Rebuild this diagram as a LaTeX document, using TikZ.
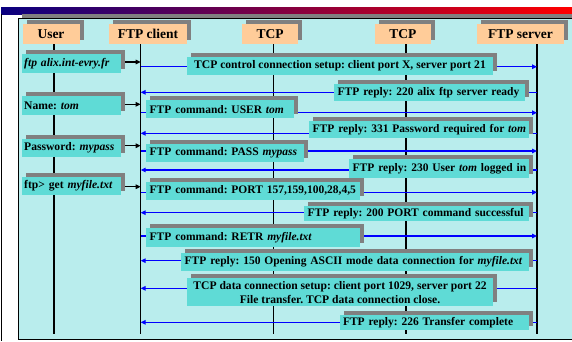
\documentclass[tikz,border=0pt]{standalone}
\usepackage{fontspec}
\setmainfont{Liberation Serif}
\usetikzlibrary{shadows,arrows.meta}
\definecolor{panel}{RGB}{185,237,237}
\definecolor{turq}{RGB}{95,219,214}
\definecolor{peach}{RGB}{255,204,153}
\definecolor{shgray}{RGB}{128,128,128}
\definecolor{navyc}{RGB}{10,0,128}
\definecolor{purp}{RGB}{128,0,128}
\definecolor{bline}{RGB}{0,0,255}
\frenchspacing
\begin{document}
\begin{tikzpicture}[x=1pt,y=-1pt,
  sh/.style={drop shadow={shadow xshift=4pt,shadow yshift=4pt,fill=shgray,opacity=1}},
  hdr/.style={sh,fill=peach,inner sep=0pt,font=\bfseries\fontsize{13.5}{16}\selectfont},
  ubox/.style={sh,fill=turq,inner xsep=2pt,inner ysep=0pt,align=left,anchor=west,text width=95pt,minimum height=18.5pt,font=\bfseries\fontsize{11.6}{14}\selectfont},
  mbox/.style={sh,fill=turq,inner xsep=3.5pt,inner ysep=0pt,align=left,anchor=west,font=\bfseries\fontsize{11.5}{14}\selectfont},
  cbox/.style={sh,fill=turq,inner sep=0pt,align=center,font=\bfseries\fontsize{11.6}{14.2}\selectfont},
  life/.style={line width=1.4pt,black},
  bl/.style={line width=1.5pt,bline,-{Triangle[length=5pt,width=4.5pt]}},
  ba/.style={line width=1.3pt,black,-{Triangle[length=5pt,width=4.5pt]}},
]
\clip (0,0) rectangle (572,341);
\fill[white] (0,0) rectangle (572,341);
% top gradient bar and left rule
\shade[left color=navyc,middle color=purp,right color=red] (1,7.5) rectangle (572,14);
\draw[line width=1.2pt,black] (1.5,14) -- (1.5,341);
% panel with shadow
\fill[shgray] (22,14.3) rectangle (580,335);
\filldraw[fill=panel,draw=black,line width=1pt] (18,18) rectangle (580,339);

% lifelines
\coordinate (Ut) at (54,44);    \coordinate (Ub) at (54,334);
\coordinate (Lc) at (140.7,44); \coordinate (Cb) at (140.7,334);
\coordinate (T1t) at (273.3,44);\coordinate (T1b) at (273.3,334);
\coordinate (T2t) at (406,44);  \coordinate (T2b) at (406,334);
\coordinate (Ls) at (537,44);   \coordinate (Sb) at (537,334);
\draw[life] (Ut) -- (Ub);
\draw[life] (Lc) -- (Cb);
\draw[life] (T1t) -- (T1b);
\draw[life] (T2t) -- (T2b);
\draw[life,line width=1.7pt] (Ls) -- (Sb);

% message levels
\coordinate (y1) at (0,66.7);
\coordinate (y2) at (0,92.3);
\coordinate (y3) at (0,112.7);
\coordinate (y4) at (0,133.3);
\coordinate (y5) at (0,151);
\coordinate (y6) at (0,170);
\coordinate (y7) at (0,192.3);
\coordinate (y8) at (0,212.7);
\coordinate (y9) at (0,236);
\coordinate (y10) at (0,260.7);
\coordinate (y11) at (0,288.3);
\coordinate (y12) at (0,322.3);
\draw[bl] (Lc|-y1) -- (Ls|-y1);
\draw[bl] (Ls|-y2) -- (Lc|-y2);
\draw[bl] (Lc|-y3) -- (Ls|-y3);
\draw[bl] (Ls|-y4) -- (Lc|-y4);
\draw[bl] (Lc|-y5) -- (Ls|-y5);
\draw[bl] (Ls|-y6) -- (Lc|-y6);
\draw[bl] (Lc|-y7) -- (Ls|-y7);
\draw[bl] (Ls|-y8) -- (Lc|-y8);
\draw[bl] (Lc|-y9) -- (Ls|-y9);
\draw[bl] (Ls|-y10) -- (Lc|-y10);
\draw[bl] (Ls|-y11) -- (Lc|-y11);
\draw[bl] (Ls|-y12) -- (Lc|-y12);

% user boxes
\node[ubox] (u1) at (22,63.5) {\mbox{\textit{ftp alix.int-evry.fr}}};
\node[ubox] (u2) at (22,105.5) {\mbox{Name: \textit{tom}}};
\node[ubox] (u3) at (22,147.8) {\mbox{Password: \textit{mypass}}};
\node[ubox] (u4) at (22,185.8) {\mbox{ftp> get \textit{myfile.txt}}};

\coordinate (a1) at (0,62);
\coordinate (a2) at (0,104.3);
\coordinate (a3) at (0,145.7);
\coordinate (a4) at (0,186.7);
\draw[ba] (u1.east|-a1) ++(4,0) -- (Lc|-a1);
\draw[ba] (u2.east|-a2) ++(4,0) -- (Lc|-a2);
\draw[ba] (u3.east|-a3) ++(4,0) -- (Lc|-a3);
\draw[ba] (u4.east|-a4) ++(4,0) -- (Lc|-a4);

% message boxes
\node[cbox,minimum width=306pt,minimum height=18pt] (m1) at (340,66) {TCP control connection setup: client port X, server port 21};
\node[mbox,text width=184pt,minimum height=16.7pt] (r1) at (334,92.3) {\mbox{FTP reply: 220 alix ftp server ready}};
\node[mbox,text width=141pt,minimum height=18.3pt] (c1) at (146,109.2) {\mbox{FTP command: USER \textit{tom}}};
\node[mbox,text width=213pt,minimum height=17.6pt] (r2) at (309,129.5) {\mbox{FTP reply: 331 Password required for \textit{tom}}};
\node[mbox,text width=151pt,minimum height=17.7pt] (c2) at (146,152.8) {\mbox{FTP command: PASS \textit{mypass}}};
\node[mbox,text width=172.3pt,minimum height=18.7pt] (r3) at (349,168.3) {\mbox{FTP reply: 230 User \textit{tom} logged in}};
\node[mbox,text width=207pt,minimum height=18.3pt] (c3) at (146,190.8) {\mbox{FTP command: PORT 157,159,100,28,4,5}};
\node[mbox,text width=217.3pt,minimum height=15pt] (r4) at (304,213.8) {\mbox{FTP reply: 200 PORT command successful}};
\node[mbox,text width=207pt,minimum height=19pt] (c4) at (146,237.8) {\mbox{FTP command: RETR \textit{myfile.txt}}};
\node[mbox,text width=340.3pt,minimum height=18pt] (r5) at (181,261.7) {\mbox{FTP reply: 150 Opening ASCII mode data connection for \textit{myfile.txt}}};
\node[cbox,minimum width=305.4pt,minimum height=27.7pt] (d1) at (340,292.2) {TCP data connection setup: client port 1029, server port 22\\File transfer. TCP data connection close.};
\node[mbox,text width=182pt,minimum height=15pt] (r6) at (339.3,322.5) {\mbox{FTP reply: 226 Transfer complete}};

% headers
\node[hdr,minimum width=57pt,minimum height=20pt] (hU) at (51,34) {User};
\node[hdr,minimum width=78pt,minimum height=20pt] (hC) at (148,34) {FTP client};
\node[hdr,minimum width=56.5pt,minimum height=20pt] (hT1) at (270.2,34) {TCP};
\node[hdr,minimum width=55.6pt,minimum height=20pt] (hT2) at (402.8,34) {TCP};
\node[hdr,minimum width=87pt,minimum height=20pt] (hS) at (520.5,34) {FTP server};
\end{tikzpicture}
\end{document}
